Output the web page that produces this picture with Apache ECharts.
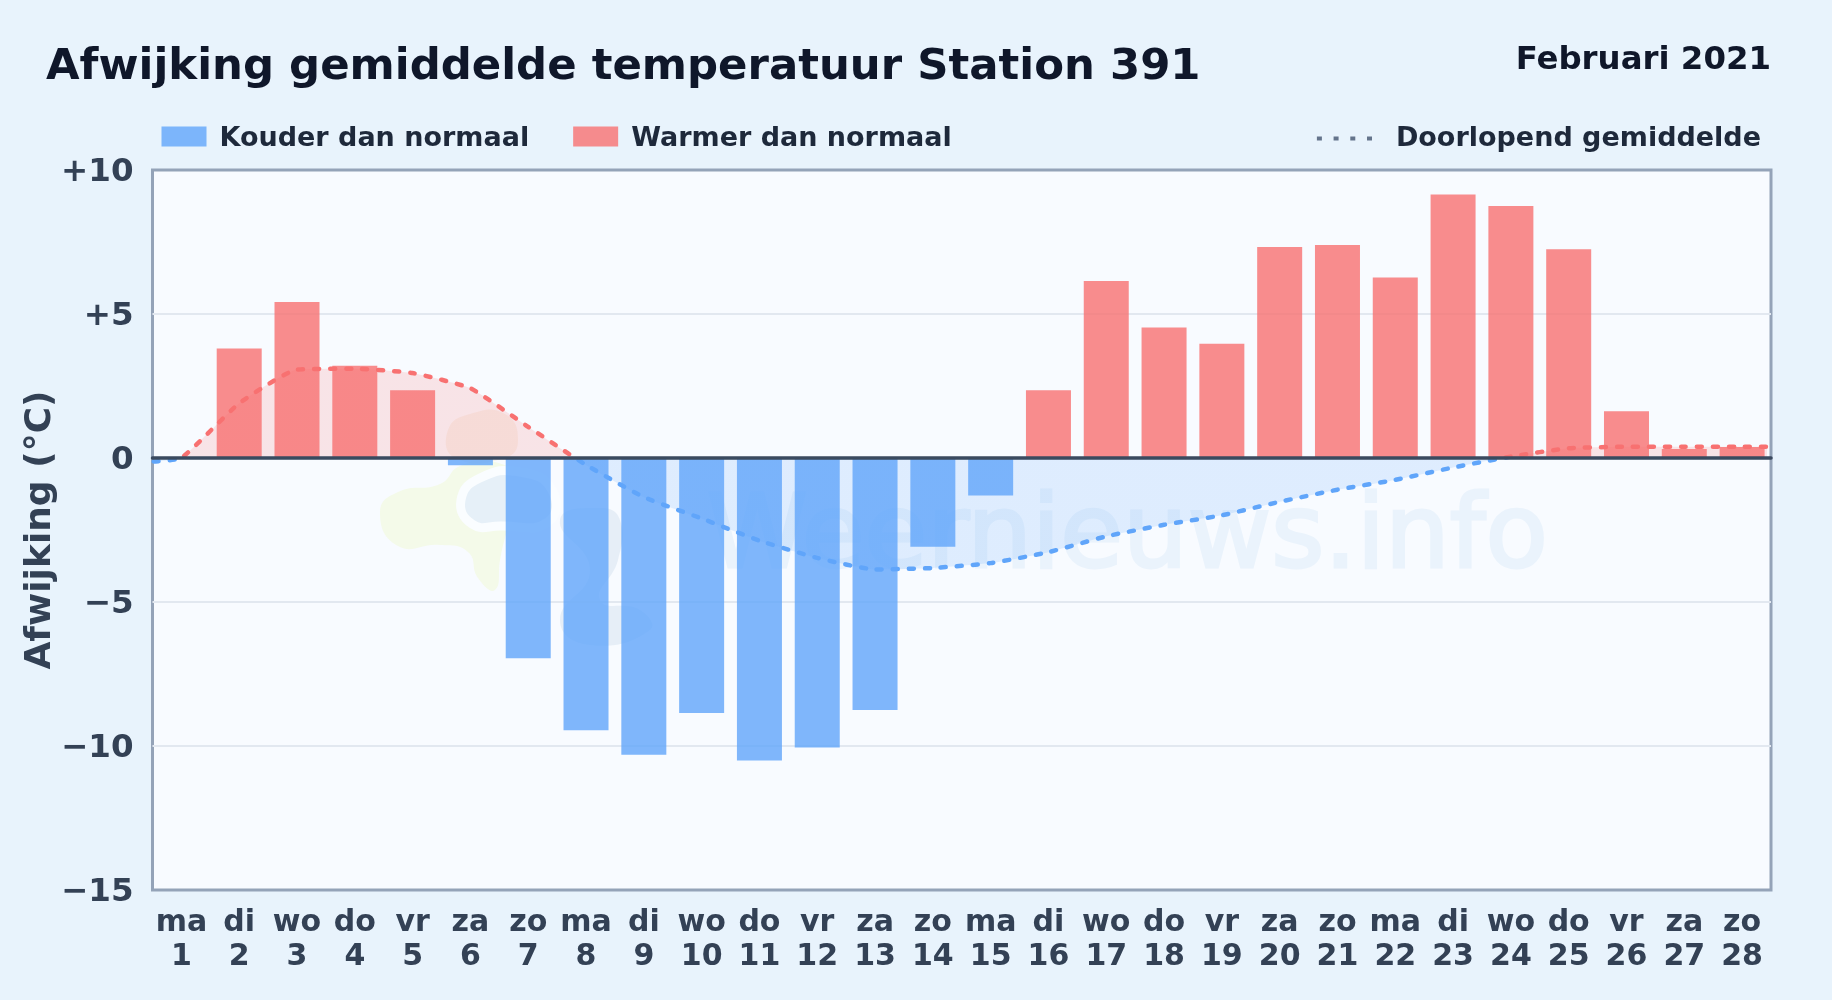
<!DOCTYPE html>
<html><head><meta charset="utf-8">
<style>html,body{margin:0;padding:0;background:#e8f3fc}#c{width:1832px;height:1000px}</style>
<script src="https://cdn.jsdelivr.net/npm/echarts@6/dist/echarts.min.js"></script>
</head><body><div id="c"></div>
<script>
const titleText = 'Afwijking gemiddelde temperatuur Station 391';
const periodText = 'Februari 2021';
const yName = 'Afwijking (°C)';
const coldName = 'Kouder dan normaal';
const warmName = 'Warmer dan normaal';
const avgName = 'Doorlopend gemiddelde';
const weekdays = ['ma','di','wo','do','vr','za','zo','ma','di','wo','do','vr','za','zo','ma','di','wo','do','vr','za','zo','ma','di','wo','do','vr','za','zo'];
const dayNumbers = [1,2,3,4,5,6,7,8,9,10,11,12,13,14,15,16,17,18,19,20,21,22,23,24,25,26,27,28];
const deviation = [0,3.8,5.42,3.2,2.35,-0.25,-6.95,-9.45,-10.3,-8.85,-10.5,-10.05,-8.75,-3.08,-1.3,2.35,6.15,4.53,3.97,7.33,7.4,6.27,9.15,8.75,7.25,1.62,0.31,0.38];
const runningMean = [0,1.9,3.07,3.1,2.95,2.42,1.08,-0.24,-1.36,-2.1,-2.87,-3.47,-3.87,-3.82,-3.65,-3.27,-2.72,-2.32,-1.99,-1.52,-1.1,-0.76,-0.33,0.05,0.34,0.39,0.39,0.39];
const leadMean = -0.12, tailMean = 0.39;
const yTicks = {10:'+10',5:'+5',0:'0','-5':'−5','-10':'−10','-15':'−15'};

const FONT = '"DejaVu Sans"';
const linePoints = [[0.52, leadMean]].concat(runningMean.map((v,i)=>[dayNumbers[i],v]), [[28.43, tailMean]]);

const chart = echarts.init(document.getElementById('c'), null, {renderer:'canvas', width:1832, height:1000});
chart.setOption({
  animation:false,
  backgroundColor:'#e8f3fc',
  textStyle:{fontFamily:FONT},
  title:[
    {text:titleText,left:46,top:46,padding:0,textStyle:{fontFamily:FONT,fontSize:43.4,fontWeight:'bold',color:'#0f172a'}},
    {text:periodText,right:61,top:45,padding:0,textStyle:{fontFamily:FONT,fontSize:32.4,fontWeight:'bold',color:'#0f172a'}}
  ],
  legend:[
    {show:true,data:[coldName,warmName],left:161.5,top:125,padding:0,itemWidth:45,itemHeight:24,itemGap:44,icon:'path://M0 0H45V20H0Z M0 24H45V24H0Z',
     textStyle:{fontFamily:FONT,fontSize:27,fontWeight:'bold',color:'#1e293b',padding:[0,0,0,8]}},
    {show:true,data:[avgName],right:71,top:125,padding:0,itemWidth:56,itemHeight:20,
     itemStyle:{color:'transparent',borderWidth:0},
     lineStyle:{color:'#64748b',width:4,type:[5,11.7],cap:'butt',opacity:1},
     textStyle:{fontFamily:FONT,fontSize:27,fontWeight:'bold',color:'#1e293b',padding:[0,0,0,18]}}
  ],
  grid:{left:152.5,right:61,top:170,bottom:110,show:true,backgroundColor:'#f8fbff',borderColor:'#94a3b8',borderWidth:3,containLabel:false},
  xAxis:[
    {type:'category',data:weekdays.map((d,i)=>d+'\n'+dayNumbers[i]),position:'bottom',
     axisLine:{show:false,onZero:false},axisTick:{show:false},splitLine:{show:false},
     axisLabel:{interval:0,margin:16,fontFamily:FONT,fontSize:30,fontWeight:'bold',color:'#334155',lineHeight:34}},
    {type:'value',min:0.5,max:28.5,show:true,z:6,
     axisLine:{show:true,onZero:true,onZeroAxisIndex:0,lineStyle:{color:'#3a4a5f',width:3.5}},
     axisTick:{show:false},axisLabel:{show:false},splitLine:{show:false}}
  ],
  yAxis:{type:'value',min:-15,max:10,interval:5,name:yName,nameLocation:'middle',nameGap:94,nameMoveOverlap:false,
    nameTextStyle:{fontFamily:FONT,fontSize:36,fontWeight:'bold',color:'#334155'},
    axisLine:{show:false},axisTick:{show:false},
    splitLine:{show:true,showMinLine:false,showMaxLine:false,lineStyle:{color:'#e2e8f0',width:2}},
    axisLabel:{margin:19,verticalAlign:'top',lineHeight:6,fontFamily:FONT,fontSize:32.5,fontWeight:'bold',color:'#334155',formatter:v=>yTicks[v]}},
  visualMap:{show:false,seriesIndex:2,dimension:1,pieces:[{gte:-20,lt:0,color:'#60a5fa'},{gte:0,lte:20,color:'#f87171'}]},
  graphic:[
    {type:'polygon',silent:true,shape:{smooth:0.5,points:[[380,512],[398,492],[440,484],[460,466],[495,462],[515,480],[500,560],[495,590],[478,578],[468,552],[440,545],[398,546]]},style:{fill:'#f4fae9'}},
    {type:'polygon',silent:true,shape:{smooth:0.5,points:[[448,430],[470,414],[505,414],[518,440],[505,458],[455,458]]},style:{fill:'rgba(240,200,150,0.18)'}},
    {type:'polygon',silent:true,shape:{smooth:0.5,points:[[461,500],[480,478],[520,472],[552,490],[548,522],[500,526],[472,524]]},style:{fill:'#e6f0f8',stroke:'#fafdff',lineWidth:9}},
    {type:'polygon',silent:true,shape:{smooth:0.5,points:[[560,520],[600,508],[620,520],[618,560],[600,600],[640,610],[650,630],[590,645],[560,620],[590,570]]},style:{fill:'rgba(215,228,240,0.55)'}},
    {type:'text',silent:true,style:{text:'Weernieuws.info',x:1548,y:591,align:'right',verticalAlign:'bottom',font:'102px "DejaVu Sans"',fill:'#eaf3fc',stroke:'#eaf3fc',lineWidth:3}}
  ],
  series:[
    {name:coldName,type:'bar',xAxisIndex:0,barWidth:45,barGap:'-100%',z:2,itemStyle:{color:'rgba(96,165,250,0.8)'},data:deviation.map(v=>v<0?v:null)},
    {name:warmName,type:'bar',xAxisIndex:0,barWidth:45,barGap:'-100%',z:2,itemStyle:{color:'rgba(248,113,113,0.8)'},data:deviation.map(v=>v>0?v:null)},
    {name:avgName,type:'line',xAxisIndex:1,smooth:0.15,showSymbol:false,symbol:'none',z:4,
     lineStyle:{width:4.5,type:[5,11],cap:'round'},areaStyle:{opacity:0.17},data:linePoints}
  ]
});
</script></body></html>
